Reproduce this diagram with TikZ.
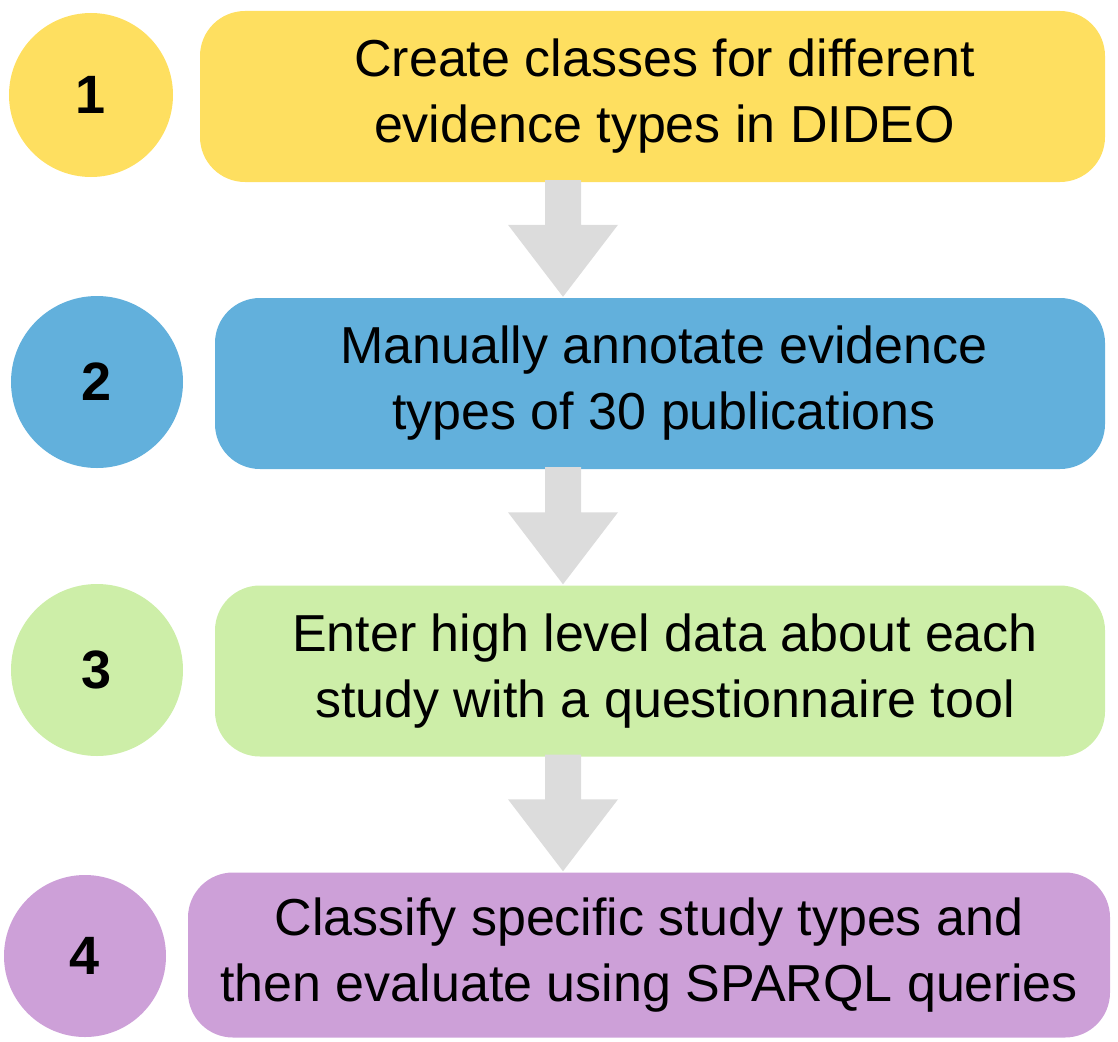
\documentclass[tikz,border=0pt]{standalone}
\usepackage{fontspec}
\setmainfont{Liberation Sans}
\usetikzlibrary{calc}
\definecolor{cyellow}{HTML}{FEDF60}
\definecolor{cblue}{HTML}{62B0DC}
\definecolor{cgreen}{HTML}{CDEEA8}
\definecolor{cpurple}{HTML}{CDA0D8}
\definecolor{cgray}{HTML}{DCDCDC}
\newcommand{\flowarrow}[2]{%
  \fill[cgray] ($(ax|-#1.south)+(-18,-2)$) -- ($(ax|-#1.south)+(18,-2)$)
    -- ($(ax|-#2.north)+(18,-73)$) -- ($(ax|-#2.north)+(55,-73)$)
    -- ($(ax|-#2.north)+(0,-1)$) -- ($(ax|-#2.north)+(-55,-73)$)
    -- ($(ax|-#2.north)+(-18,-73)$) -- cycle;}
\begin{document}
\begin{tikzpicture}[x=1pt,y=-1pt,
  numcirc/.style={circle,inner sep=0pt,font=\fontsize{54}{60}\selectfont\bfseries},
  stepbox/.style={rectangle,rounded corners=45pt,inner sep=0pt,align=center,
    font=\fontsize{52}{66}\selectfont}]
\useasboundingbox (0,0) rectangle (1118,1041);
\coordinate (ax) at (563,0);
% row 1
\node[numcirc,fill=cyellow,minimum size=164pt] (c1) at (91,95) {1};
\node[stepbox,fill=cyellow,minimum width=905pt,minimum height=171pt] (b1) at (652.5,96.5)
  {\hspace*{24pt}Create classes for different\\\hspace*{24pt}evidence types in DIDEO};
% row 2
\node[numcirc,fill=cblue,minimum size=172pt] (c2) at (97,382) {2};
\node[stepbox,fill=cblue,minimum width=890pt,minimum height=171pt] (b2) at (660,383.5)
  {\hspace*{8pt}Manually annotate evidence\\\hspace*{8pt}types of 30 publications};
% row 3
\node[numcirc,fill=cgreen,minimum size=172pt] (c3) at (97,670) {3};
\node[stepbox,fill=cgreen,minimum width=890pt,minimum height=171pt] (b3) at (660,671)
  {\hspace*{10pt}Enter high level data about each\\\hspace*{10pt}study with a questionnaire tool};
% row 4
\node[numcirc,fill=cpurple,minimum size=162pt] (c4) at (85,956) {4};
\node[stepbox,fill=cpurple,minimum width=922pt,minimum height=165pt] (b4) at (649,955)
  {Classify specific study types and\\then evaluate using SPARQL queries};
% arrows
\flowarrow{b1}{b2}
\flowarrow{b2}{b3}
\flowarrow{b3}{b4}
\end{tikzpicture}
\end{document}
